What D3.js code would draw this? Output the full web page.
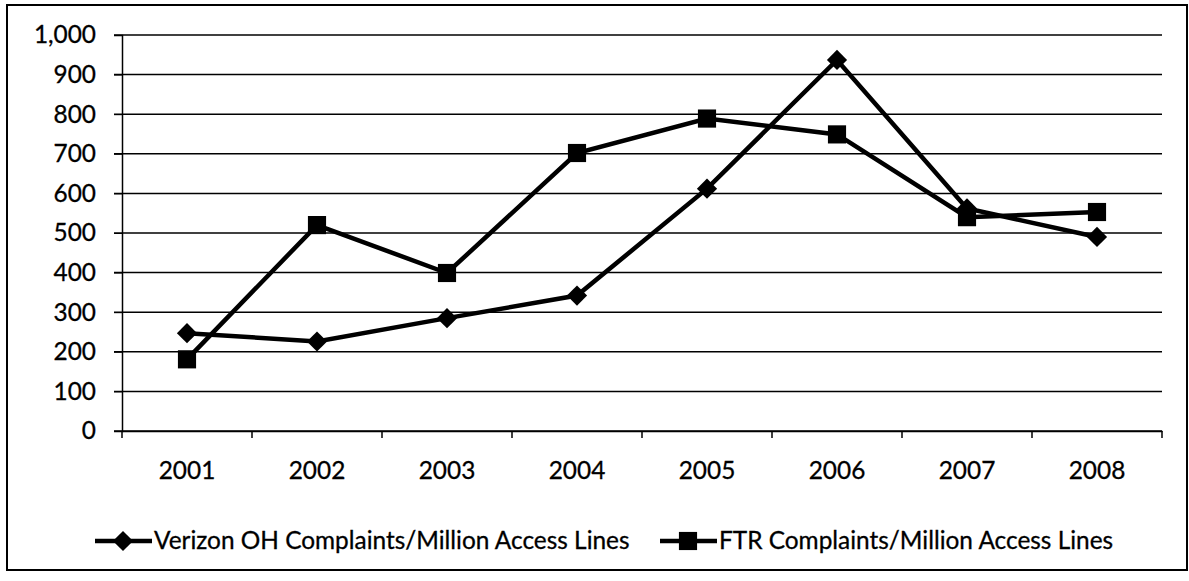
<!DOCTYPE html>
<html><head><meta charset="utf-8">
<script src="https://cdn.jsdelivr.net/npm/d3@7"></script>
<style>body{margin:0;background:#fff}svg{display:block}</style>
</head><body>
<svg id="c" width="1189" height="581"></svg>
<script>
const years = ["2001","2002","2003","2004","2005","2006","2007","2008"];
const verizon = [247, 226, 285, 342, 612, 937, 562, 490];
const ftr = [181, 520, 399, 702, 789, 749, 540, 553];
const yTicks = [0,100,200,300,400,500,600,700,800,900,1000];
const seriesNames = ["Verizon OH Complaints/Million Access Lines","FTR Complaints/Million Access Lines"];

const svg = d3.select("#c");
const font = "Lato, 'Open Sans', sans-serif";
const fs = 24.4;
svg.append("rect").attr("x",7).attr("y",5).attr("width",1180).attr("height",565)
  .attr("fill","#fff").attr("stroke","#000").attr("stroke-width",2);

const L=122,R=1162,T=35,B=431;
const x = d3.scaleBand().domain(years).range([L,R]);
const y = d3.scaleLinear().domain([0,1000]).range([B,T]);

// gridlines
svg.append("g").selectAll("line").data(yTicks).join("line")
  .attr("x1",L-8).attr("x2",R).attr("y1",d=>y(d)).attr("y2",d=>y(d))
  .attr("stroke","#000").attr("stroke-width",1.5);

// y axis
const ya = svg.append("g").attr("transform",`translate(${L},0)`)
  .call(d3.axisLeft(y).tickValues(yTicks).tickFormat(d3.format(",")).tickSize(8).tickPadding(18));
ya.select(".domain").attr("stroke-width",1.5);
ya.selectAll("text").attr("font-family",font).attr("font-size",fs).attr("fill","#000")
  .attr("stroke","#000").attr("stroke-width",0.3);

// x axis
const xa = svg.append("g").attr("transform",`translate(0,${B})`)
  .call(d3.axisBottom(x).tickSize(0).tickPadding(31));
xa.select(".domain").attr("stroke-width",1.5);
xa.selectAll("text").attr("font-family",font).attr("font-size",fs).attr("fill","#000")
  .attr("stroke","#000").attr("stroke-width",0.3);
xa.append("g").selectAll("line").data(years.concat(["end"])).join("line")
  .attr("x1",(d,i)=>i<years.length?x(d):R).attr("x2",(d,i)=>i<years.length?x(d):R)
  .attr("y1",0).attr("y2",7).attr("stroke","#000").attr("stroke-width",1.5);

const line = d3.line().x((d,i)=>x(years[i])+x.bandwidth()/2).y(d=>y(d));
const diamond = d3.symbol().type(d3.symbolDiamond2).size(260);
const square = d3.symbol().type(d3.symbolSquare2).size(420);

function drawSeries(data, sym){
  svg.append("path").datum(data).attr("d",line).attr("fill","none")
    .attr("stroke","#000").attr("stroke-width",4.5).attr("stroke-linejoin","miter");
  svg.append("g").selectAll("path").data(data).join("path")
    .attr("d",sym).attr("fill","#000")
    .attr("transform",(d,i)=>`translate(${x(years[i])+x.bandwidth()/2},${y(d)})`);
}
drawSeries(verizon, diamond);
drawSeries(ftr, square);

// legend
const leg = [{x:95, sym:diamond, name:seriesNames[0]},{x:660, sym:square, name:seriesNames[1]}];
const ly = 541;
leg.forEach(l=>{
  svg.append("line").attr("x1",l.x).attr("x2",l.x+57).attr("y1",ly).attr("y2",ly)
    .attr("stroke","#000").attr("stroke-width",4.5);
  svg.append("path").attr("d",l.sym).attr("fill","#000").attr("transform",`translate(${l.x+28},${ly})`);
  svg.append("text").attr("x",l.x+59).attr("y",ly+8).attr("font-family",font).attr("font-size",fs)
    .attr("fill","#000").attr("stroke","#000").attr("stroke-width",0.3).text(l.name);
});
</script>
</body></html>
